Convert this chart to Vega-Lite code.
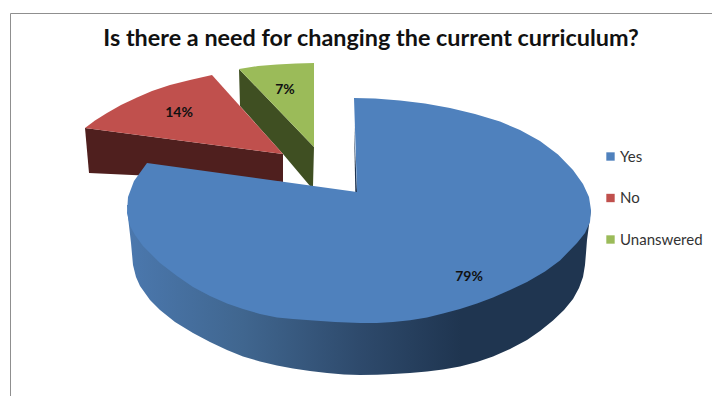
{
  "$schema": "https://vega.github.io/schema/vega-lite/v6.json",
  "width": 712,
  "height": 396,
  "padding": 0,
  "autosize": "none",
  "background": "white",
  "view": {"stroke": null},
  "title": {
    "text": "Is there a need for changing the current curriculum?",
    "font": "Lato",
    "fontSize": 23.4,
    "fontWeight": "bold",
    "color": "#111111",
    "anchor": "middle",
    "frame": "group",
    "dx": 15,
    "offset": -51
  },
  "datasets": {
    "frame": [
      {"x": 10.5, "y": 396}, {"x": 10.5, "y": 13.5}, {"x": 712, "y": 13.5}
    ],
    "greenSide": [
      {"x": 239, "y": 69}, {"x": 314, "y": 147}, {"x": 313, "y": 186}, {"x": 310, "y": 186},
      {"x": 283, "y": 154}, {"x": 240, "y": 106}
    ],
    "redSide": [
      {"x": 85, "y": 128}, {"x": 283, "y": 154}, {"x": 283, "y": 182}, {"x": 89, "y": 173}
    ],
    "blueNotchWall": [
      {"x": 354, "y": 125}, {"x": 357, "y": 192}, {"x": 355.3, "y": 192}
    ],
    "blueSide": [
      {"x": 127, "y": 205}, {"x": 128, "y": 217}, {"x": 131, "y": 243}, {"x": 133, "y": 265},
      {"x": 136, "y": 277}, {"x": 140, "y": 286}, {"x": 150, "y": 300}, {"x": 160, "y": 310},
      {"x": 175, "y": 322}, {"x": 193, "y": 333}, {"x": 210, "y": 342}, {"x": 227, "y": 350},
      {"x": 243, "y": 356.5}, {"x": 260, "y": 361.5}, {"x": 277, "y": 365.5}, {"x": 293, "y": 368.5},
      {"x": 310, "y": 371}, {"x": 327, "y": 373}, {"x": 344, "y": 374.5}, {"x": 360, "y": 375},
      {"x": 377, "y": 374.8}, {"x": 393, "y": 374}, {"x": 410, "y": 373}, {"x": 427, "y": 371.5},
      {"x": 443, "y": 369.5}, {"x": 460, "y": 366.5}, {"x": 477, "y": 362}, {"x": 493, "y": 356.5},
      {"x": 510, "y": 349}, {"x": 527, "y": 340}, {"x": 540, "y": 331}, {"x": 553, "y": 320.5},
      {"x": 564, "y": 310}, {"x": 573, "y": 299}, {"x": 579, "y": 288}, {"x": 583, "y": 277},
      {"x": 585, "y": 265}, {"x": 586, "y": 253}, {"x": 587, "y": 240}, {"x": 589, "y": 225},
      {"x": 591, "y": 210}
    ],
    "faces": [
      {"part": "Unanswered", "x": 239, "y": 69}, {"part": "Unanswered", "x": 258, "y": 66},
      {"part": "Unanswered", "x": 277, "y": 64.5}, {"part": "Unanswered", "x": 296, "y": 63.5},
      {"part": "Unanswered", "x": 314, "y": 63}, {"part": "Unanswered", "x": 314, "y": 147},

      {"part": "No", "x": 212, "y": 75}, {"part": "No", "x": 190, "y": 80},
      {"part": "No", "x": 170, "y": 85}, {"part": "No", "x": 152, "y": 91},
      {"part": "No", "x": 137, "y": 97.5}, {"part": "No", "x": 121, "y": 105},
      {"part": "No", "x": 107, "y": 113}, {"part": "No", "x": 95, "y": 120.5},
      {"part": "No", "x": 85, "y": 128}, {"part": "No", "x": 283, "y": 154},

      {"part": "Yes", "x": 357, "y": 192}, {"part": "Yes", "x": 354, "y": 98},
      {"part": "Yes", "x": 375, "y": 98.5}, {"part": "Yes", "x": 400, "y": 100.5},
      {"part": "Yes", "x": 425, "y": 103.5}, {"part": "Yes", "x": 450, "y": 108},
      {"part": "Yes", "x": 475, "y": 114}, {"part": "Yes", "x": 500, "y": 121.5},
      {"part": "Yes", "x": 520, "y": 130}, {"part": "Yes", "x": 540, "y": 141},
      {"part": "Yes", "x": 558, "y": 154.5}, {"part": "Yes", "x": 573, "y": 170},
      {"part": "Yes", "x": 583, "y": 184}, {"part": "Yes", "x": 589, "y": 197},
      {"part": "Yes", "x": 591, "y": 210}, {"part": "Yes", "x": 590, "y": 222},
      {"part": "Yes", "x": 585, "y": 233}, {"part": "Yes", "x": 577, "y": 243},
      {"part": "Yes", "x": 560, "y": 260.5}, {"part": "Yes", "x": 545, "y": 271.5},
      {"part": "Yes", "x": 527, "y": 282}, {"part": "Yes", "x": 510, "y": 290},
      {"part": "Yes", "x": 493, "y": 297.5}, {"part": "Yes", "x": 477, "y": 303.5},
      {"part": "Yes", "x": 460, "y": 309}, {"part": "Yes", "x": 443, "y": 313.5},
      {"part": "Yes", "x": 427, "y": 317.5}, {"part": "Yes", "x": 410, "y": 320.3},
      {"part": "Yes", "x": 393, "y": 322}, {"part": "Yes", "x": 377, "y": 323},
      {"part": "Yes", "x": 360, "y": 323}, {"part": "Yes", "x": 335, "y": 322},
      {"part": "Yes", "x": 310, "y": 320.3}, {"part": "Yes", "x": 293, "y": 319},
      {"part": "Yes", "x": 277, "y": 317.5}, {"part": "Yes", "x": 260, "y": 314},
      {"part": "Yes", "x": 243, "y": 309}, {"part": "Yes", "x": 227, "y": 303.5},
      {"part": "Yes", "x": 210, "y": 296}, {"part": "Yes", "x": 193, "y": 287},
      {"part": "Yes", "x": 177, "y": 276}, {"part": "Yes", "x": 160, "y": 263},
      {"part": "Yes", "x": 143, "y": 246}, {"part": "Yes", "x": 135, "y": 235},
      {"part": "Yes", "x": 130, "y": 226}, {"part": "Yes", "x": 127, "y": 213},
      {"part": "Yes", "x": 128, "y": 197}, {"part": "Yes", "x": 134, "y": 181},
      {"part": "Yes", "x": 147, "y": 163}
    ],
    "shares": [
      {"part": "Yes", "share": 0.79, "x": 469, "y": 277},
      {"part": "No", "share": 0.14, "x": 179, "y": 113},
      {"part": "Unanswered", "share": 0.07, "x": 285, "y": 90}
    ]
  },
  "encoding": {
    "x": {"field": "x", "type": "quantitative", "scale": {"domain": [0, 712], "nice": false, "zero": false}, "axis": null},
    "y": {"field": "y", "type": "quantitative", "scale": {"domain": [396, 0], "nice": false, "zero": false}, "axis": null},
    "order": {"value": null}
  },
  "layer": [
    {
      "data": {"name": "frame"},
      "mark": {"type": "line", "stroke": "#8f8f8f", "strokeWidth": 1, "clip": false}
    },
    {
      "data": {"name": "greenSide"},
      "mark": {"type": "line", "interpolate": "linear-closed", "fill": "#3f4f22", "stroke": null}
    },
    {
      "data": {"name": "redSide"},
      "mark": {"type": "line", "interpolate": "linear-closed", "fill": "#4f1f1e", "stroke": null}
    },
    {
      "data": {"name": "blueNotchWall"},
      "mark": {"type": "line", "interpolate": "linear-closed", "fill": "#1f3552", "stroke": null}
    },
    {
      "data": {"name": "blueSide"},
      "mark": {
        "type": "line",
        "interpolate": "linear-closed",
        "stroke": null,
        "fill": {
          "gradient": "linear",
          "x1": 0, "y1": 0, "x2": 1, "y2": 0,
          "stops": [
            {"offset": 0, "color": "#4b78ae"},
            {"offset": 0.25, "color": "#40668f"},
            {"offset": 0.5, "color": "#2e4a6c"},
            {"offset": 0.72, "color": "#1f3550"},
            {"offset": 1, "color": "#1f3550"}
          ]
        }
      }
    },
    {
      "data": {"name": "faces"},
      "mark": {"type": "line", "interpolate": "linear-closed", "stroke": null},
      "encoding": {
        "fill": {
          "field": "part",
          "type": "nominal",
          "scale": {"domain": ["Yes", "No", "Unanswered"], "range": ["#4f81bd", "#c0504d", "#9bbb59"]},
          "legend": {
            "title": null,
            "orient": "none",
            "legendX": 603,
            "legendY": 149,
            "symbolType": "square",
            "symbolSize": 70,
            "symbolStrokeWidth": 0,
            "labelFont": "Lato",
            "labelFontSize": 15,
            "labelColor": "#333333",
            "labelOffset": 2,
            "rowPadding": 25.5
          }
        }
      }
    },
    {
      "data": {"name": "shares"},
      "mark": {"type": "text", "font": "Lato", "fontSize": 14, "fontWeight": "bold", "color": "#111111"},
      "encoding": {
        "text": {"field": "share", "type": "quantitative", "format": ".0%"}
      }
    }
  ]
}
